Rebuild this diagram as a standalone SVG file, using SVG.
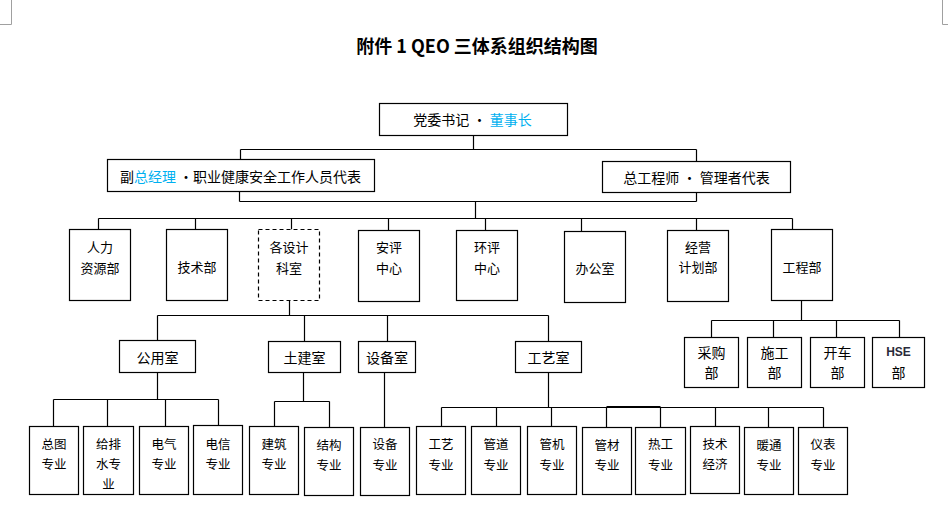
<svg xmlns="http://www.w3.org/2000/svg" width="948" height="532" viewBox="0 0 948 532">
<style>
  .box{fill:#fff;stroke:#000;stroke-width:1.2}
  .dash{fill:#fff;stroke:#000;stroke-width:1.2;stroke-dasharray:4 3}
  .ln{fill:none;stroke:#000;stroke-width:1.2}
  .mk{fill:none;stroke:#a0a0a0;stroke-width:1}
  text{font-family:"Noto Sans CJK SC","Liberation Sans",sans-serif;fill:#000;text-anchor:middle;dominant-baseline:central}
  .t14{font-size:14px}
  .t13{font-size:13px}
  .t12{font-size:12.5px}
  .title{font-size:18px;font-weight:bold}
  .blue{fill:#00B0F0}
</style>
<rect width="948" height="532" fill="#fff"/>
<g id="corner-marks">
  <path class="mk" d="M11.5,0 V24.5 H0"/>
  <path class="mk" d="M942.5,0 V24.5 H948"/>
</g>
<g id="title"><text class="title" x="477" y="45">附件 1 QEO 三体系组织结构图</text></g>
<g id="connectors">
  <path class="ln" d="M473.5,135.5 V149.5 M240.5,149.5 H696.5 M240.5,149.5 V159.5 M696.5,149.5 V161.5"/>
  <path class="ln" d="M239.5,191.5 V201.5 M696.5,192.5 V201.5 M239.5,201.5 H696.5 M475.5,201.5 V218.5"/>
  <path class="ln" d="M98.5,218.5 H792.5 M98.5,218.5 V229.5 M195.5,218.5 V229.5 M291.5,218.5 V229.5 M388.5,218.5 V230.5 M485.5,218.5 V230.5 M581.5,218.5 V231.5 M696.5,218.5 V230.5 M792.5,218.5 V229.5"/>
  <path class="ln" d="M289.5,300.5 V315.5 M157.5,315.5 H548.5 M157.5,315.5 V340.5 M304.5,315.5 V341.5 M387.5,315.5 V341.5 M548.5,315.5 V341.5"/>
  <path class="ln" d="M157.5,372.5 V399.5 M53.5,399.5 H218.5 M53.5,399.5 V426.5 M107.5,399.5 V426.5 M165.5,399.5 V426.5 M218.5,399.5 V425.5"/>
  <path class="ln" d="M303.5,372.5 V401.5 M274.5,401.5 H329.5 M274.5,401.5 V426.5 M329.5,401.5 V427.5"/>
  <path class="ln" d="M384.5,372.5 V427.5"/>
  <path class="ln" d="M548.5,372.5 V407.5 M441.5,407.5 H823.5 M606.5,406.5 H660.5 M441.5,407.5 V426.5 M496.5,407.5 V426.5 M551.5,407.5 V426.5 M606.5,407.5 V427.5 M660.5,407.5 V427.5 M715.5,407.5 V426.5 M768.5,407.5 V427.5 M823.5,407.5 V427.5"/>
  <path class="ln" d="M801.5,300.5 V320.5 M711.5,320.5 H899.5 M711.5,320.5 V337.5 M773.5,320.5 V337.5 M836.5,320.5 V337.5 M899.5,320.5 V337.5"/>
</g>
<g id="n-chair"><rect class="box" x="379.5" y="103.5" width="188" height="32"/><text class="t14" x="472.5" y="118.5">党委书记 · <tspan class="blue">董事长</tspan></text></g>
<g id="n-vgm"><rect class="box" x="107.5" y="159.5" width="267" height="32"/><text class="t14" x="240.5" y="175.5">副<tspan class="blue">总经理</tspan> ·职业健康安全工作人员代表</text></g>
<g id="n-ce"><rect class="box" x="602.5" y="161.5" width="188" height="31"/><text class="t14" x="696.5" y="176.5">总工程师 · 管理者代表</text></g>

<g id="n-hr"><rect class="box" x="69.5" y="229.5" width="61" height="71"/><text class="t13" x="100" y="246">人力</text><text class="t13" x="100" y="267">资源部</text></g>
<g id="n-tech"><rect class="box" x="166.5" y="229.5" width="61" height="71"/><text class="t13" x="197" y="266">技术部</text></g>
<g id="n-design"><rect class="dash" x="258.5" y="229.5" width="61" height="71"/><text class="t13" x="289" y="246">各设计</text><text class="t13" x="289" y="267">科室</text></g>
<g id="n-safety"><rect class="box" x="358.5" y="230.5" width="61" height="71"/><text class="t13" x="389" y="246">安评</text><text class="t13" x="389" y="267">中心</text></g>
<g id="n-env"><rect class="box" x="456.5" y="230.5" width="61" height="70"/><text class="t13" x="487" y="246">环评</text><text class="t13" x="487" y="267">中心</text></g>
<g id="n-office"><rect class="box" x="564.5" y="231.5" width="61" height="71"/><text class="t13" x="595" y="267">办公室</text></g>
<g id="n-plan"><rect class="box" x="667.5" y="230.5" width="61" height="71"/><text class="t13" x="698" y="246">经营</text><text class="t13" x="698" y="266">计划部</text></g>
<g id="n-eng"><rect class="box" x="771.5" y="229.5" width="61" height="71"/><text class="t13" x="802" y="266">工程部</text></g>

<g id="n-public"><rect class="box" x="119.5" y="340.5" width="76" height="32"/><text class="t14" x="157.5" y="357">公用室</text></g>
<g id="n-civil"><rect class="box" x="268.5" y="341.5" width="72" height="31"/><text class="t14" x="304.5" y="357">土建室</text></g>
<g id="n-equip"><rect class="box" x="358.5" y="341.5" width="57" height="31"/><text class="t14" x="387" y="357">设备室</text></g>
<g id="n-process"><rect class="box" x="515.5" y="341.5" width="66" height="31"/><text class="t14" x="548.5" y="357">工艺室</text></g>

<g id="n-purchase"><rect class="box" x="684.5" y="337.5" width="54" height="50"/><text class="t14" x="711.5" y="352">采购</text><text class="t14" x="711.5" y="372">部</text></g>
<g id="n-constr"><rect class="box" x="747.5" y="337.5" width="54" height="50"/><text class="t14" x="774.5" y="352">施工</text><text class="t14" x="774.5" y="372">部</text></g>
<g id="n-start"><rect class="box" x="810.5" y="337.5" width="54" height="50"/><text class="t14" x="837.5" y="352">开车</text><text class="t14" x="837.5" y="372">部</text></g>
<g id="n-hse"><rect class="box" x="872.5" y="337.5" width="52" height="50"/><text x="898.5" y="352" style="font-family:'Liberation Sans',sans-serif;font-size:12px;font-weight:bold;fill:#2a2a3a">HSE</text><text class="t14" x="898.5" y="372">部</text></g>

<g id="n-zt"><rect class="box" x="29.5" y="426.5" width="49" height="68"/><text class="t12" x="54" y="443">总图</text><text class="t12" x="54" y="463">专业</text></g>
<g id="n-gps"><rect class="box" x="83.5" y="426.5" width="50" height="68"/><text class="t12" x="108.5" y="443">给排</text><text class="t12" x="108.5" y="463">水专</text><text class="t12" x="108.5" y="483">业</text></g>
<g id="n-dq"><rect class="box" x="139.5" y="426.5" width="49" height="68"/><text class="t12" x="164" y="443">电气</text><text class="t12" x="164" y="463">专业</text></g>
<g id="n-dx"><rect class="box" x="193.5" y="425.5" width="49" height="69"/><text class="t12" x="218" y="443">电信</text><text class="t12" x="218" y="463">专业</text></g>
<g id="n-jz"><rect class="box" x="249.5" y="426.5" width="49" height="68"/><text class="t12" x="274" y="443">建筑</text><text class="t12" x="274" y="463">专业</text></g>
<g id="n-jg"><rect class="box" x="304.5" y="427.5" width="49" height="68"/><text class="t12" x="329" y="444">结构</text><text class="t12" x="329" y="464">专业</text></g>
<g id="n-sb"><rect class="box" x="360.5" y="427.5" width="49" height="68"/><text class="t12" x="385" y="443">设备</text><text class="t12" x="385" y="464">专业</text></g>
<g id="n-gy"><rect class="box" x="416.5" y="426.5" width="49" height="68"/><text class="t12" x="441" y="443">工艺</text><text class="t12" x="441" y="464">专业</text></g>
<g id="n-gd"><rect class="box" x="471.5" y="426.5" width="49" height="68"/><text class="t12" x="496" y="443">管道</text><text class="t12" x="496" y="464">专业</text></g>
<g id="n-gj"><rect class="box" x="527.5" y="426.5" width="49" height="68"/><text class="t12" x="552" y="443">管机</text><text class="t12" x="552" y="464">专业</text></g>
<g id="n-gc"><rect class="box" x="582.5" y="427.5" width="49" height="67"/><text class="t12" x="607" y="444">管材</text><text class="t12" x="607" y="464">专业</text></g>
<g id="n-rg"><rect class="box" x="635.5" y="427.5" width="50" height="67"/><text class="t12" x="660.5" y="443">热工</text><text class="t12" x="660.5" y="464">专业</text></g>
<g id="n-jsjj"><rect class="box" x="690.5" y="426.5" width="49" height="67"/><text class="t12" x="715" y="443">技术</text><text class="t12" x="715" y="463">经济</text></g>
<g id="n-nt"><rect class="box" x="744.5" y="427.5" width="49" height="67"/><text class="t12" x="769" y="444">暖通</text><text class="t12" x="769" y="464">专业</text></g>
<g id="n-yb"><rect class="box" x="798.5" y="427.5" width="49" height="67"/><text class="t12" x="823" y="443">仪表</text><text class="t12" x="823" y="464">专业</text></g>
</svg>
